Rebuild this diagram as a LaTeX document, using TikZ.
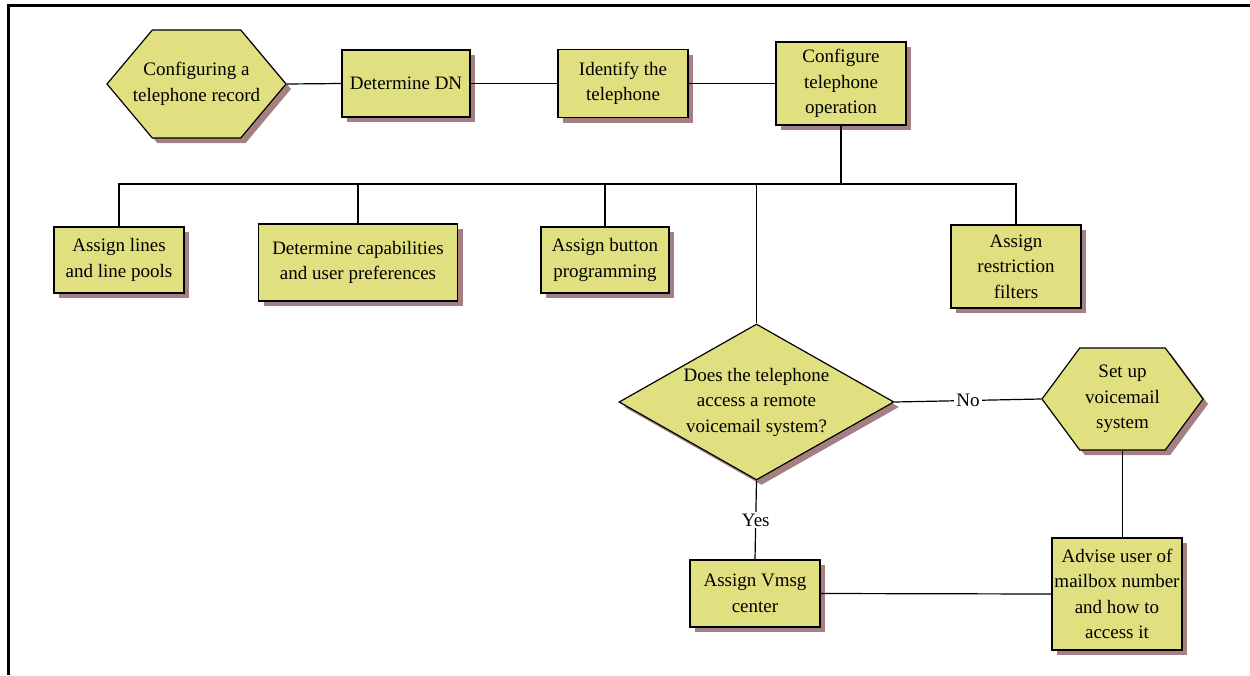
\documentclass[tikz,border=0pt]{standalone}
\usepackage{fontspec}
\setmainfont{Liberation Serif}
\usepackage{tikz}
\usetikzlibrary{shapes.geometric, shapes.symbols, shadows}

\definecolor{boxfill}{RGB}{224,224,128}
\definecolor{shadowc}{RGB}{165,128,130}

\begin{document}
\begin{tikzpicture}[
  x=1pt, y=-1pt,
  font=\fontsize{19}{25.5}\selectfont,
  blk/.style={draw, line width=1.2pt, fill=boxfill, align=center, inner sep=2pt,
    drop shadow={shadow xshift=5pt, shadow yshift=-5pt, fill=shadowc, opacity=1}},
  hexa/.style={blk, signal, signal to=east and west, signal pointer angle=#1, inner sep=0pt},
  ask/.style={blk, diamond, inner sep=0pt},
  txt/.style={label={[align=center]center:{#1}}},
  lbl/.style={fill=white, inner sep=2pt},
  conn/.style={line width=1.2pt}
]
\useasboundingbox (0,0) rectangle (1250,675);
\draw[line width=3pt] (1250,5) -- (8,5) -- (8,675);

% Top row
\node[hexa=100, minimum width=179pt, minimum height=108pt,
  txt={Configuring a\\telephone record}] (start) at (196.5,84) {};
\node[blk, minimum width=128pt, minimum height=67pt] (dn) at (406,83.5) {Determine DN};
\node[blk, minimum width=130pt, minimum height=68pt] (ident) at (623,83.5) {Identify the\\telephone};
\node[blk, minimum width=130pt, minimum height=83pt] (conf) at (841,83.5) {Configure\\telephone\\operation};
\draw[conn] (start.east) -- (dn.west);
\draw[conn] (dn.east) -- (ident.west);
\draw[conn] (ident.east) -- (conf.west);

% Second row
\coordinate (bus) at (0,184);
\node[blk, minimum width=130pt, minimum height=66pt] (lines) at (119,260) {Assign lines\\and line pools};
\node[blk, minimum width=199pt, minimum height=77pt] (caps) at (358,262.5) {Determine capabilities\\and user preferences};
\node[blk, minimum width=128pt, minimum height=66pt] (button) at (605,260) {Assign button\\programming};
\node[blk, minimum width=130pt, minimum height=83pt] (filters) at (1016,266.5) {Assign\\restriction\\filters};

% Voicemail branch
\node[ask, minimum width=275pt, minimum height=156pt,
  txt={Does the telephone\\access a remote\\voicemail system?}] (remote) at (756.5,402) {};
\node[hexa=107, minimum width=161pt, minimum height=102pt,
  txt={Set up\\voicemail\\system}] (setup) at (1122.5,399) {};
\node[blk, minimum width=130pt, minimum height=67pt] (vmsg) at (755,593.5) {Assign Vmsg\\center};
\node[blk, minimum width=130pt, minimum height=112pt] (advise) at (1117,594) {Advise user of\\mailbox number\\and how to\\access it};

% Bus from configure
\draw[conn] (conf.south) -- (conf.south |- bus);
\draw[conn] (lines.north) -- (lines.north |- bus) -- (filters.north |- bus) -- (filters.north);
\draw[conn] (caps.north) -- (caps.north |- bus);
\draw[conn] (button.north) -- (button.north |- bus);
\draw[conn] (remote.north) -- (remote.north |- bus);

\draw[conn] (remote.east) -- node[lbl]{No} (setup.west);
\draw[conn] (remote.south) -- node[lbl]{Yes} (vmsg.north);
\draw[conn] (setup.south) -- (setup.south |- advise.north);
\draw[conn] (advise.west) -- (vmsg.east);

\end{tikzpicture}
\end{document}
